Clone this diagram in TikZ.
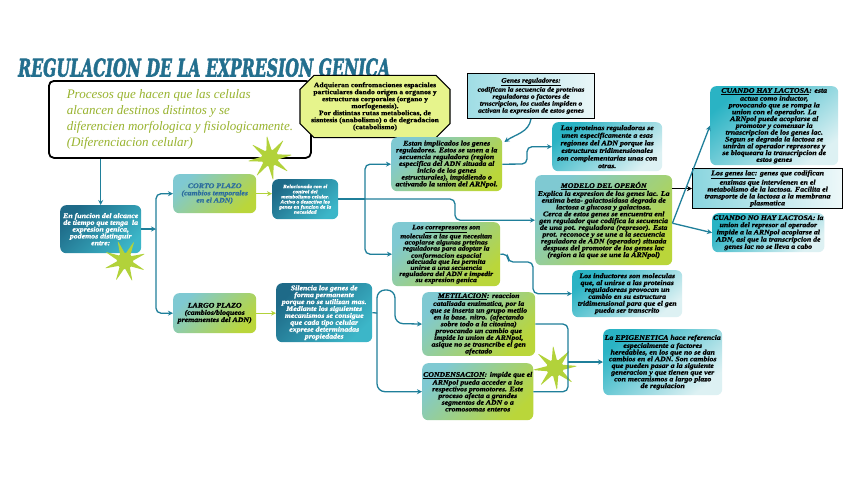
\documentclass[tikz,border=0pt]{standalone}
\usepackage{fontspec}
\setmainfont{Liberation Serif}[FakeStretch=1.12, BoldItalicFeatures={FakeBold=1.2}, BoldFeatures={FakeBold=0.8}]
\newfontfamily\introfont{Liberation Serif}
\newfontfamily\titlefont{DejaVu Serif}[FakeBold=2.5]
\usetikzlibrary{shapes.geometric,shapes.misc,arrows.meta}
\definecolor{tealc}{HTML}{1F7F9A}
\definecolor{titlec}{HTML}{236F8E}
\definecolor{limec}{HTML}{B2D23A}
\definecolor{darkA}{HTML}{1E6A88}
\definecolor{darkB}{HTML}{3CB6C8}
\definecolor{tlA}{HTML}{7FC9D2}
\definecolor{tlB}{HTML}{BAD63A}
\definecolor{ltA}{HTML}{2AB3C4}
\definecolor{ltB}{HTML}{DDF1F3}
\definecolor{scriptc}{HTML}{98B32E}
\definecolor{octc}{HTML}{E6F48C}
\definecolor{cortoc}{HTML}{2D6E9E}
\tikzset{
  conn/.style={draw=tealc, line width=1.3pt, rounded corners=5pt, -{Stealth[length=5pt,width=5pt]}},
  connplain/.style={draw=tealc, line width=1.3pt, rounded corners=5pt},
  limearrow/.style={draw=limec, line width=1.3pt, -{Stealth[length=5pt,width=5pt]}},
  box/.style={rounded corners=6pt, inner sep=1pt, align=center, anchor=north west, text=black},
  darkbox/.style={box, top color=darkA, bottom color=darkB, shading angle=45, text=white},
  tlbox/.style={box, top color=tlA, bottom color=tlB, shading angle=45},
  ltbox/.style={box, top color=ltA, bottom color=ltB, shading angle=40},
  fs/.style 2 args={font=\fontsize{#1}{#2}\selectfont\bfseries\itshape},
  starshape/.style={star, star points=8, star point ratio=3.2, fill=limec, inner sep=0pt, rounded corners=1.5pt}
}
\begin{document}
\begin{tikzpicture}[x=1pt,y=-1pt]
\useasboundingbox[fill=white] (0,0) rectangle (848,477);

% title
\node[anchor=south west, inner sep=0pt, text=titlec] (title) at (18,77)
  {\resizebox{372pt}{18pt}{\titlefont\bfseries\itshape REGULACION DE LA EXPRESION GENICA}};

% intro box
\node[box, draw=black, line width=1.8pt, fill=white, rounded corners=5pt, minimum width=262pt, minimum height=77pt,
  align=left, text=scriptc, font=\introfont\fontsize{13}{16}\selectfont\itshape, inner sep=2.5pt] (intro) at (48,80)
  {Procesos que hacen que las celulas\\alcancen destinos distintos y se\\diferencien morfologica y fisiologicamente.\\(Diferenciacion celular)};

% octagon box
\node[chamfered rectangle, chamfered rectangle xsep=7pt, chamfered rectangle ysep=7pt, draw=black, line width=1.1pt,
  fill=octc, minimum width=150pt, minimum height=50pt, inner sep=0pt, align=center, anchor=center,
  font=\fontsize{6.8}{7}\selectfont\bfseries] (octa) at (375,106.5)
  {Adquieran confromaciones espaciales\\particulares dando origen a organos y\\estructuras corporales (organo y\\morfogenesis).\\Por distintas rutas metabolicas, de\\sisntesis (anabolismo) o de degradacion\\(catabolismo)};

% genes reguladores
\node[box, rounded corners=0pt, draw=black, line width=1pt, left color=ltA!45, right color=ltB!60, minimum width=127pt, minimum height=45pt, fs={6.6}{7}] (genes) at (467,73)
  {\underline{Genes reguladores:}\\codifican la secuencia de proteinas\\reguladoras o factores de\\trnscripcion, los cuales impiden o\\activan la expresion de estos genes};

% left column
\node[darkbox, minimum width=81pt, minimum height=48pt, fs={7}{6.8}] (alcance) at (60,205)
  {En funcion del alcance\\de tiempo que tenga\ \ la\\expresion genica,\\podemos distinguir\\entre:};
\node[tlbox, minimum width=83pt, minimum height=39pt, fs={7}{7.2}, text=cortoc] (corto) at (173,174)
  {CORTO PLAZO\\(cambios temporales\\en el ADN)};
\node[tlbox, minimum width=83pt, minimum height=40pt, fs={7}{7.2}] (largo) at (173,293)
  {LARGO PLAZO\\(cambios/bloqueos\\premanentes del ADN)};
\node[darkbox, minimum width=66pt, minimum height=40pt, fs={5}{5.1}] (relac) at (272,179)
  {Relacionada con el\\control del\\metabolismo celular.\\Activa o desactiva los\\genes en funcion de la\\necesidad};
\node[darkbox, minimum width=96pt, minimum height=59pt, fs={7}{6.9}] (silencia) at (276,283)
  {Silencia los genes de\\forma permanente\\porque no se utilizan mas.\\Mediante los siguientes\\mecanismos se consigue\\que cada tipo celular\\exprese determinadas\\propiedades};

% middle column
\node[tlbox, minimum width=111pt, minimum height=54pt, fs={7}{6.8}] (estan) at (391,137)
  {Estan implicados los genes\\reguladores. Estos se unen a la\\secuencia reguladora (region\\especifica del ADN situada al\\inicio de los genes\\estructurales), impidiendo o\\activando la union del ARNpol.};
\node[tlbox, minimum width=108pt, minimum height=64pt, fs={6.7}{6.1}] (correp) at (392,222)
  {Los \underline{correpresores} son\\moleculas a las que necesitan\\acoplarse algunas prteinas\\reguladoras para adoptar la\\conformacion espacial\\adecuada que les permita\\unirse a una secuencia\\reguladora del ADN e impedir\\su expresion genica};
\node[tlbox, minimum width=113pt, minimum height=63pt, fs={6.9}{6.8}] (metil) at (422,292)
  {\underline{METILACION}: reaccion\\catalisada enzimatica, por la\\que se inserta un grupo metilo\\en la base. nitro. (afectando\\sobre todo a la citosina)\\provocando un cambio que\\impide la union de ARNpol,\\asique no se trasncribe el gen\\afectado};
\node[tlbox, minimum width=105pt, minimum height=57pt, fs={6.9}{6.7}] (condens) at (422,363)
  {\underline{CONDENSACION}: impide que el\\ARNpol pueda acceder a los\\respectivos promotores. Este\\proceso afecta a grandes\\segmentos de ADN o a\\cromosomas enteros};

% right-middle column
\node[ltbox, minimum width=110pt, minimum height=49pt, fs={7}{7.6}] (proteinas) at (552,122)
  {Las proteinas reguladoras se\\unen especificamente a esas\\regiones del ADN porque las\\estructuras tridimensionales\\son complementarias unas con\\otras.};
\node[tlbox, minimum width=137pt, minimum height=90pt, fs={7}{6.8}] (operon) at (535,175)
  {\underline{MODELO DEL OPERÓN}\\Explica la expresion de los genes lac. La\\enzima beta- galactosidasa degrada de\\lactosa a glucosa y galactosa.\\Cerca de estos genes se encuentra enl\\gen regulador que codifica la secuencia\\de una pot. reguladora (represor). Esta\\prot. reconoce y se une a la secuencia\\reguladora de ADN (operador) situada\\despues del promotor de los genes lac\\(region a la que se une la ARNpol)};
\node[ltbox, minimum width=110pt, minimum height=47pt, fs={7}{6.9}] (inductores) at (572,270)
  {Los inductores son moleculas\\que, al unirse a las proteinas\\reguladoreas provocan un\\cambio en su estructura\\tridimensional para que el gen\\pueda ser transcrito};
\node[ltbox, minimum width=119pt, minimum height=66pt, fs={7}{6.7}] (epigen) at (603,329)
  {La \underline{EPIGENETICA} hace referencia\\especialmente a factores\\heredables, en los que no se dan\\cambios en el ADN. Son cambios\\que pueden pasar a la siguiente\\generacion y que tienen que ver\\con mecanismos a largo plazo\\de regulacion};

% right column
\node[ltbox, minimum width=128pt, minimum height=79pt, fs={7}{6.8}] (hay) at (710,86)
  {\underline{CUANDO HAY LACTOSA}: esta\\actua como inductor,\\provocando que se rompa la\\union con el operador. La\\ARNpol puede acoplarse al\\promotor y comenzar la\\trnascripcion de los genes lac.\\Segun se degrada la lactosa se\\uniràn al operador represores y\\se bloqueara la transcripcion de\\estos genes};
\node[box, rounded corners=0pt, draw=black, line width=1.2pt, left color=ltA!55, right color=ltB!50, minimum width=150pt, minimum height=40pt, fs={7}{6.9}] (geneslac) at (692,168)
  {\underline{Los genes lac}: genes que codifican\\enzimas que intervienen en el\\metabolismo de la lactosa. Facilita el\\transporte de la lactosa a la membrana\\plasmatica};
\node[ltbox, minimum width=110pt, minimum height=39pt, fs={6.9}{7.2}] (nohay) at (712,213)
  {CUANDO NO HAY LACTOSA: la\\union del represor al operador\\impide a la ARNpol acoplarse al\\ADN, asi que la transcripcion de\\genes lac no se lleva a cabo};

% stars
\node[starshape, minimum size=46pt, rotate=8] (star1) at (270,158) {};
\node[starshape, minimum size=44pt, rotate=20] (star2) at (125,261) {};
\node[starshape, minimum size=46pt, rotate=5] (star3) at (555,368) {};

% connectors
\draw[conn] (alcance.north |- intro.south) -- (alcance.north);
\coordinate (j1) at (156,229);
\draw[conn] (alcance.east |- j1) -- (j1);
\draw[conn] (j1) |- (corto.west);
\draw[conn] (j1) |- (largo.west);
\draw[limearrow] (corto.east) -- (corto.east -| relac.west);
\draw[limearrow] (largo.east) -- (largo.east -| silencia.west);

\coordinate (j2) at (365,199);
\draw[connplain] (relac.east |- j2) -- (j2);
\draw[conn] (j2) |- (estan.west);
\draw[conn] (j2) |- (correp.west);
\draw[conn] (j2) -- (455,199) |- (operon.west);

\draw[conn] (estan.east) -- (527,164) |- (proteinas.west);
\draw[conn] (genes.south) to[out=-100,in=35] ([xshift=2pt,yshift=-5pt]estan.north east);

\draw[draw=black, line width=1.3pt, -{Stealth[length=5pt,width=5pt]}] (operon.east |- geneslac.west) -- (geneslac.west);
\draw[conn, rounded corners=0pt] ([yshift=-3pt]operon.east) -- (hay.west);
\draw[conn, rounded corners=0pt] ([yshift=-3pt]operon.east) -- (nohay.west);

\draw[conn] (correp.east) -- (508,254) -- (508,262) -- (533,262) |- (inductores.west);

\coordinate (j3) at (377,313);
\draw[connplain] (silencia.east) -- (j3);
\draw[conn, rounded corners=8pt] (j3) -- (377,290) -- (395,290) -- (395,323.5) -- (metil.west);
\draw[conn, rounded corners=8pt] (j3) |- (condens.west);

\coordinate (j4) at (568,362);
\draw[connplain] (metil.east) -| (j4);
\draw[connplain] (condens.east) -| (j4);
\draw[conn] (j4) -- (j4 -| epigen.west);
\end{tikzpicture}
\end{document}
